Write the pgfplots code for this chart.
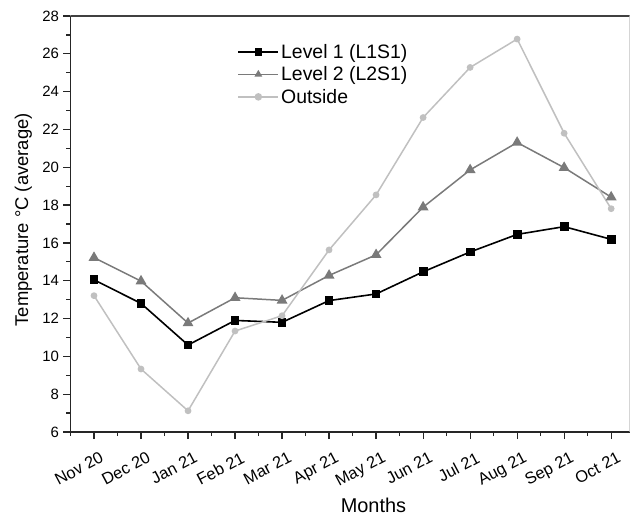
\documentclass[border=0pt]{standalone}
\usepackage{fontspec}
\setmainfont{Liberation Sans}
\usepackage{pgfplots}
\pgfplotsset{compat=1.18}
\definecolor{lvltwo}{RGB}{122,122,122}
\definecolor{outs}{RGB}{192,192,192}
\begin{document}
\begin{tikzpicture}
\useasboundingbox (-70.5bp,-89bp) rectangle (562.5bp,16bp+416bp);
\begin{axis}[
  at={(0,0)}, anchor=south west,
  scale only axis, width=559bp, height=416bp,
  xmin=-0.5, xmax=11.39, ymin=6, ymax=28,
  axis x line*=bottom, axis y line*=left,
  axis line style={line width=1.4bp, draw=black!85},
  xtick={0,...,11},
  xticklabels={Nov 20,Dec 20,Jan 21,Feb 21,Mar 21,Apr 21,May 21,Jun 21,Jul 21,Aug 21,Sep 21,Oct 21},
  minor xtick={-0.5,0.5,...,11},
  ytick={6,8,...,28},
  minor ytick={7,9,...,27},
  tick align=outside,
  major tick length=7bp, minor tick length=4bp,
  every tick/.style={line width=1.2bp, black!85},
  x tick label style={rotate=28, anchor=north east, font=\fontsize{16.5}{18}\selectfont, inner sep=1pt, yshift=-12bp, xshift=0bp},
  y tick label style={font=\fontsize{15}{17}\selectfont, xshift=-1bp},
  /pgf/number format/assume math mode=true,
  xlabel={Months}, ylabel={Temperature °C (average)},
  xlabel style={font=\fontsize{20}{22}\selectfont, at={(axis description cs:0.542,0)}, anchor=north, yshift=-63bp},
  ylabel style={font=\fontsize{18.5}{21}\selectfont, at={(axis description cs:0,0.51)}, anchor=south, yshift=35bp},
  legend style={at={(0.2985,0.938)}, anchor=north west, draw=none, fill=none,
    font=\fontsize{19.5}{23}\selectfont, row sep=3bp, inner sep=0pt,
    nodes={inner sep=2pt}},
  legend cell align=left,
  legend image code/.code={\draw[mark repeat=2,mark phase=2,mark size=3bp] plot coordinates {(0bp,0bp)(20bp,0bp)(40bp,0bp)};},
]
\addplot[black, line width=1.6bp, mark=square*, mark size=3.6bp, mark options={solid}]
coordinates {(0,14.05)(1,12.8)(2,10.6)(3,11.9)(4,11.8)(5,12.95)(6,13.3)(7,14.47)(8,15.52)(9,16.45)(10,16.86)(11,16.19)};
\addplot[lvltwo, line width=1.5bp, mark=triangle*, mark size=4.8bp, mark options={solid}]
coordinates {(0,15.22)(1,13.98)(2,11.76)(3,13.1)(4,12.96)(5,14.28)(6,15.37)(7,17.89)(8,19.86)(9,21.31)(10,19.98)(11,18.42)};
\addplot[outs, line width=1.5bp, mark=*, mark size=2.6bp, mark options={solid}]
coordinates {(0,13.21)(1,9.33)(2,7.12)(3,11.34)(4,12.15)(5,15.63)(6,18.54)(7,22.63)(8,25.28)(9,26.78)(10,21.8)(11,17.81)};
\legend{Level 1 (L1S1),Level 2 (L2S1),Outside}
\draw[line width=1.2bp, black!75] (rel axis cs:0,1) -- (rel axis cs:1,1);
\draw[line width=0.6bp, black!25] (rel axis cs:1,1) -- (rel axis cs:1,0);
\end{axis}
\end{tikzpicture}
\end{document}
